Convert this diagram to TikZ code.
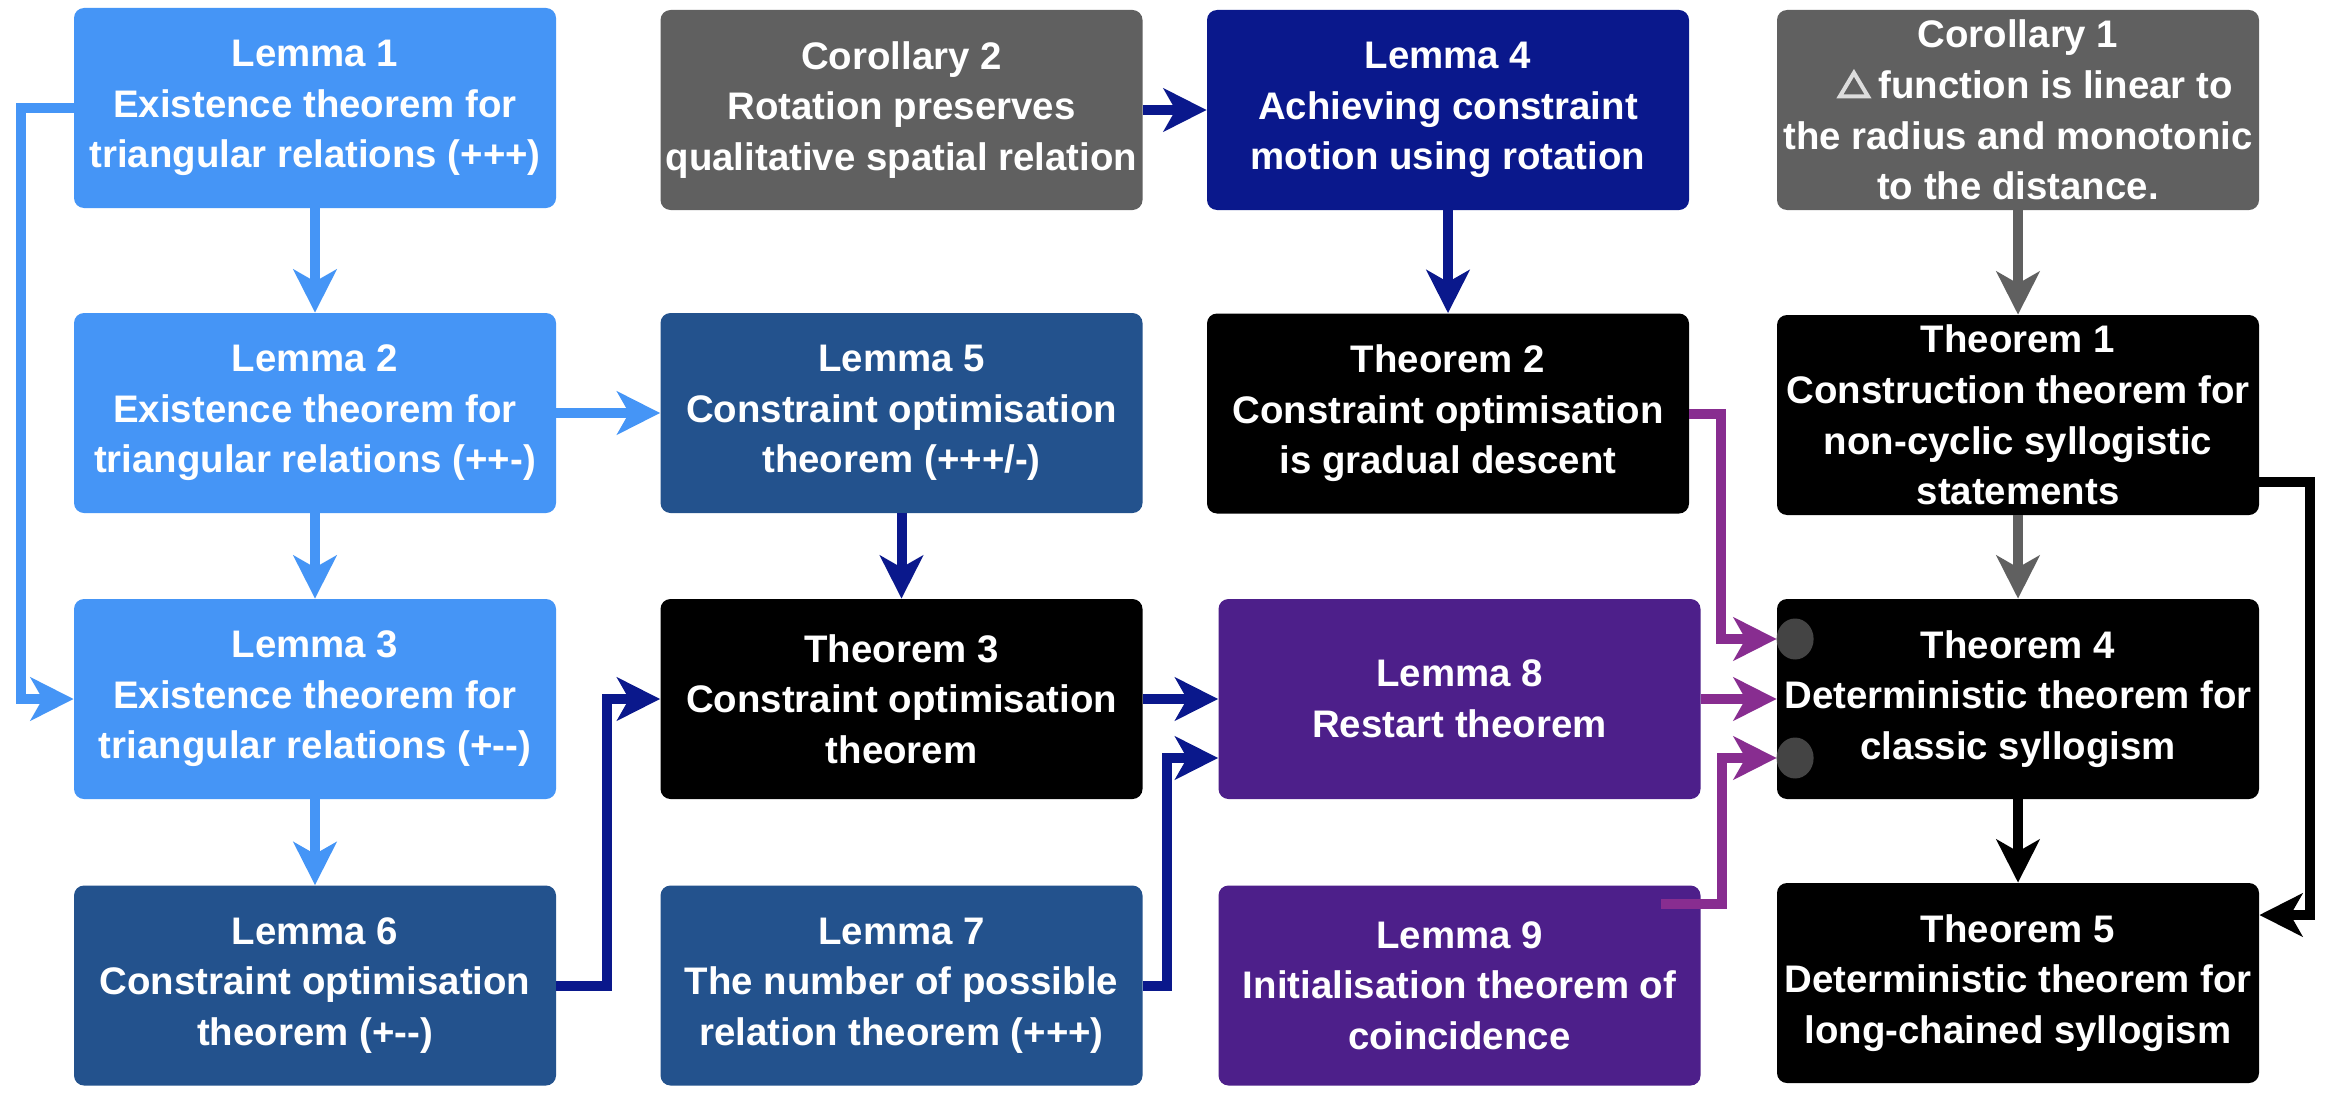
\documentclass[tikz,border=0pt]{standalone}
\usepackage{fontspec}
\setmainfont{Liberation Sans}
\usetikzlibrary{arrows.meta,calc,shapes.geometric}
\definecolor{lblue}{HTML}{4595F6}
\definecolor{cgrey}{HTML}{606060}
\definecolor{navy}{HTML}{0A188C}
\definecolor{mblue}{HTML}{23528D}
\definecolor{purp}{HTML}{4D1F8A}
\definecolor{parr}{HTML}{882D90}
\definecolor{dotc}{HTML}{444444}
\definecolor{tric}{HTML}{DDDDDD}
\newcommand{\deltatri}{\tikz[baseline=0pt, sharp corners, x=1pt, y=1pt]{\useasboundingbox (0,0) rectangle (16.5,14.5);
  \draw[tric, line width=2pt, line join=miter] (1.2,1) -- (15.3,1) -- (8.25,12.8) -- cycle;}}
\tikzset{
  box/.style={rectangle, rounded corners=5pt, minimum width=241pt, minimum height=100pt,
    inner sep=0pt, align=center, text=white,
    font=\fontsize{19.2}{25.3}\selectfont\bfseries,
    execute at begin node={\rule{0pt}{20pt}}},
  arr/.style={line width=5pt, -{Stealth[length=21.5pt,width=21.5pt,inset=6pt]}},
  lbarr/.style={arr, draw=lblue},
  nvarr/.style={arr, draw=navy},
  pparr/.style={arr, draw=parr},
  grarr/.style={arr, draw=cgrey},
  bkarr/.style={arr, draw=black},
  dot/.style={ellipse, fill=dotc, minimum width=18.5pt, minimum height=20.5pt, inner sep=0pt}
}
\begin{document}
\begin{tikzpicture}[x=0.5pt,y=-0.5pt]
\useasboundingbox[fill=white] (0,0) rectangle (2328,1097);
% row 1
\node[box, fill=lblue] (L1) at (315,108) {Lemma 1\\Existence theorem for\\triangular relations (+++)};
\node[box, fill=cgrey] (C2) at (901.5,110) {Corollary 2\\Rotation preserves\\qualitative spatial relation};
\node[box, fill=navy] (L4) at (1448,110) {Lemma 4\\Achieving constraint\\motion using rotation};
\node[box, fill=cgrey] (C1) at (2018,110) {Corollary 1\\\hspace*{17pt}\deltatri\hspace{4pt}function is linear to\\the radius and monotonic\\to the distance.};
% row 2
\node[box, fill=lblue] (L2) at (315,413) {Lemma 2\\Existence theorem for\\triangular relations (++-)};
\node[box, fill=mblue] (L5) at (901.5,413) {Lemma 5\\Constraint optimisation\\theorem (+++/-)};
\node[box, fill=black] (T2) at (1448,413.5) {Theorem 2\\Constraint optimisation\\is gradual descent};
\node[box, fill=black] (T1) at (2018,415) {Theorem 1\\Construction theorem for\\non-cyclic syllogistic\\statements};
% row 3
\node[box, fill=lblue] (L3) at (315,699) {Lemma 3\\Existence theorem for\\triangular relations (+-{}-)};
\node[box, fill=black] (T3) at (901.5,699) {Theorem 3\\Constraint optimisation\\theorem};
\node[box, fill=purp] (L8) at (1459.5,699) {Lemma 8\\Restart theorem};
\node[box, fill=black] (T4) at (2018,699) {Theorem 4\\Deterministic theorem for\\classic syllogism};
% row 4
\node[box, fill=mblue] (L6) at (315,985.5) {Lemma 6\\Constraint optimisation\\theorem (+-{}-)};
\node[box, fill=mblue] (L7) at (901.5,985.5) {Lemma 7\\The number of possible\\relation theorem (+++)};
\node[box, fill=purp] (L9) at (1459.5,985.5) {Lemma 9\\Initialisation theorem of\\coincidence};
\node[box, fill=black] (T5) at (2018,983) {Theorem 5\\Deterministic theorem for\\long-chained syllogism};
% light blue connectors
\draw[lbarr] (L1.south) -- (L2.north);
\draw[lbarr] (L2.south) -- (L3.north);
\draw[lbarr] (L3.south) -- (L6.north);
\draw[lbarr] (L1.west) -- ++(-53,0) |- (L3.west);
\draw[lbarr] (L2.east) -- (L5.west);
% navy connectors
\draw[nvarr] (C2.east) -- (L4.west);
\draw[nvarr] (L4.south) -- (T2.north);
\draw[nvarr] (L5.south) -- (T3.north);
\draw[nvarr] (L6.east) -- ++(51,0) |- (T3.west);
\draw[nvarr] (T3.east) -- (L8.west);
\coordinate (L8in) at ($(L8.west)+(0,59)$);
\draw[nvarr] (L7.east) -- ++(24,0) |- (L8in);
% purple connectors
\coordinate (T4a) at ($(T4.west)+(0,-60)$);
\coordinate (T4c) at ($(T4.west)+(0,59)$);
\coordinate (L9out) at ($(L9.north east)+(-40,19)$);
\draw[pparr] (T2.east) -- ++(32,0) |- (T4a);
\draw[pparr] (L8.east) -- (T4.west);
\draw[pparr] (L9out) -- ++(61,0) |- (T4c);
% grey and black connectors
\draw[grarr] (C1.south) -- (T1.north);
\draw[grarr] (T1.south) -- (T4.north);
\draw[bkarr] (T4.south) -- (T5.north);
\coordinate (T1out) at ($(T1.east)+(0,67)$);
\coordinate (T5in) at ($(T5.east)+(0,-68)$);
\draw[bkarr] (T1out) -- ++(51,0) |- (T5in);
% dots
\node[dot] (d1) at ($(T4a)+(18.5,0)$) {};
\node[dot] (d2) at ($(T4c)+(18.5,0)$) {};
\end{tikzpicture}
\end{document}
